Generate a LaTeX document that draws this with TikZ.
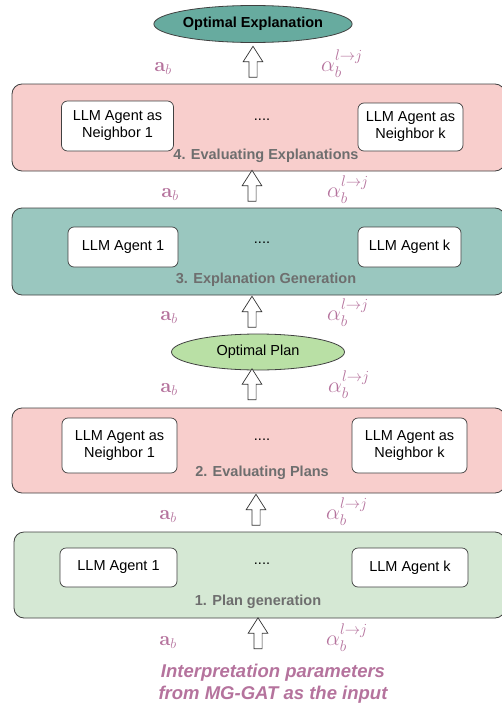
\documentclass[tikz,border=0pt]{standalone}
\usepackage{fix-cm}
\usepackage{amsmath}
\usepackage[no-math]{fontspec}
\setmainfont{Liberation Sans}
\usetikzlibrary{shapes.geometric,shapes.arrows,positioning}
\definecolor{evalpink}{HTML}{F8CECC}
\definecolor{gentealL}{HTML}{9AC7BF}
\definecolor{gentealD}{HTML}{67AB9F}
\definecolor{plangreen}{HTML}{D5E8D4}
\definecolor{optgreen}{HTML}{B9E0A5}
\definecolor{labelgray}{HTML}{6E6E6E}
\definecolor{paramcol}{HTML}{B5739D}
\newcommand{\figfont}{\fontsize{14.5}{17}\selectfont}
\tikzset{
  stage box/.style={draw=black!75,line width=0.8pt,rounded corners=10pt,
    minimum width=493pt,minimum height=87pt},
  agent node/.style={draw=black!75,line width=0.7pt,fill=white,
    rounded corners=6pt,minimum width=112pt,minimum height=40pt,
    align=center,font=\figfont},
  stage label/.style={font=\figfont\bfseries,text=labelgray},
  dots label/.style={font=\figfont},
  result node/.style={ellipse,draw=black!75,line width=0.8pt,
    minimum width=178pt,minimum height=37pt,inner sep=0pt,font=\figfont},
  up arrow/.style={single arrow,draw=black!80,line width=0.7pt,fill=white,
    shape border rotate=90,minimum height=31pt,inner sep=3.75pt,
    single arrow head extend=5.75pt,single arrow tip angle=65},
  weight label/.style={anchor=base,text=paramcol,font=\fontsize{20}{22}\selectfont},
  attn label/.style={anchor=base,text=paramcol,font=\fontsize{22}{24}\selectfont},
}

\begin{document}
\begin{tikzpicture}[x=1pt,y=-1pt]
  \useasboundingbox (0,0) rectangle (501,709);

  % Top result of the pipeline.
  \node[result node,fill=gentealD,font=\figfont\bfseries] (optexpl) at (253,24)
    {Optimal Explanation};
  \node[up arrow] (up4) at (253,65) {};
  \node[weight label] (ab4) at (163,71.5) {\(\mathbf{a}_b\)};
  \node[attn label] (al4) at (342,71.5) {\(\alpha_b^{l\to j}\)};

  % 4. Evaluating explanations
  \node[stage box,fill=evalpink] (stage4) at (258.5,127.5) {};
  \node[agent node,minimum height=50pt] (eval4a) at (117.5,126)
    {LLM Agent as\\Neighbor 1};
  \node[agent node,minimum width=105pt,minimum height=48pt] (eval4k)
    at (410.5,127) {LLM Agent as\\Neighbor k};
  \node[dots label] (dots4) at (262,120) {....};
  \node[stage label] (lab4) at (266,156) {4. Evaluating Explanations};

  \node[up arrow] (up3) at (252,189) {};
  \node[weight label] (ab3) at (170,197.5) {\(\mathbf{a}_b\)};
  \node[attn label] (al3) at (348,197.5) {\(\alpha_b^{l\to j}\)};

  % 3. Explanation generation
  \node[stage box,fill=gentealL] (stage3) at (258.5,251.5) {};
  \node[agent node,minimum width=110pt] (gen3a) at (123,247) {LLM Agent 1};
  \node[agent node,minimum width=103pt] (gen3k) at (409.5,247) {LLM Agent k};
  \node[dots label] (dots3) at (262,243) {....};
  \node[stage label] (lab3) at (266,280) {3. Explanation Generation};

  \node[up arrow] (up2) at (252,315) {};
  \node[weight label] (ab2) at (169,320.5) {\(\mathbf{a}_b\)};
  \node[attn label] (al2) at (348,320.5) {\(\alpha_b^{l\to j}\)};

  % Intermediate result.
  \node[result node,fill=optgreen,minimum width=173pt,minimum height=36pt]
    (optplan) at (258,352) {Optimal Plan};
  \node[up arrow] (up1) at (252,387.5) {};
  \node[weight label] (ab1) at (169,392) {\(\mathbf{a}_b\)};
  \node[attn label] (al1) at (349,392) {\(\alpha_b^{l\to j}\)};

  % 2. Evaluating plans
  \node[stage box,fill=evalpink,minimum height=85pt] (stage2) at (258.5,450.5) {};
  \node[agent node,minimum width=115pt,minimum height=55pt] (eval2a)
    at (119.5,445.5) {LLM Agent as\\Neighbor 1};
  \node[agent node,minimum width=115pt,minimum height=55pt] (eval2k)
    at (409.5,445.5) {LLM Agent as\\Neighbor k};
  \node[dots label] (dots2) at (262,440) {....};
  \node[stage label] (lab2) at (262,473) {2. Evaluating Plans};

  \node[up arrow] (up0) at (256,513) {};
  \node[weight label] (ab0) at (168,519.5) {\(\mathbf{a}_b\)};
  \node[attn label] (al0) at (347,519.5) {\(\alpha_b^{l\to j}\)};

  % 1. Plan generation
  \node[stage box,fill=plangreen,minimum width=491pt,minimum height=86pt]
    (stage1) at (259.5,575) {};
  \node[agent node,minimum width=117pt,minimum height=39pt] (gen1a)
    at (118.5,567.5) {LLM Agent 1};
  \node[agent node,minimum width=116pt,minimum height=39pt] (gen1k)
    at (410,567.5) {LLM Agent k};
  \node[dots label] (dots1) at (262,564) {....};
  \node[stage label] (lab1) at (258,602) {1. Plan generation};

  \node[up arrow] (upin) at (258,636.5) {};
  \node[weight label] (abin) at (168,645.5) {\(\mathbf{a}_b\)};
  \node[attn label] (alin) at (347,645.5) {\(\alpha_b^{l\to j}\)};

  % Input from the graph model.
  \node[text=paramcol,align=center,font=\fontsize{18.5}{22}\selectfont\bfseries\itshape]
    (input) at (273,684) {Interpretation parameters\\from MG-GAT as the input};
\end{tikzpicture}
\end{document}
